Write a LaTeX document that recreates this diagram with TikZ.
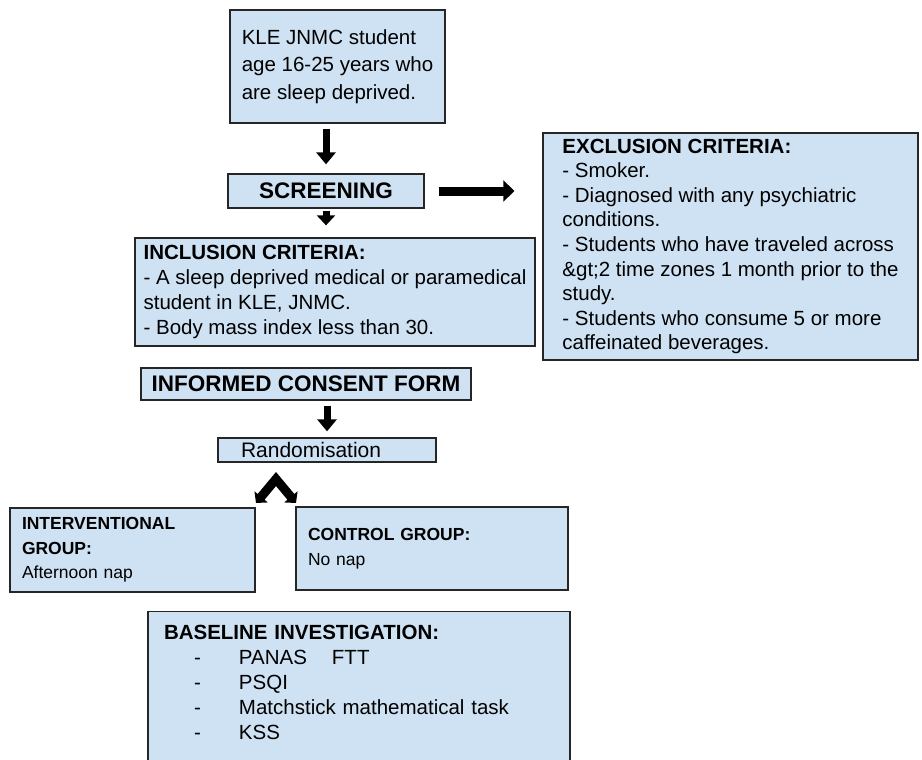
\documentclass[tikz,border=0pt]{standalone}
\usepackage{fontspec}
\setmainfont{Liberation Sans}
\usetikzlibrary{arrows.meta}

\definecolor{boxfill}{HTML}{CFE2F3}
\definecolor{boxline}{HTML}{262626}

\begin{document}
\begin{tikzpicture}[x=1pt, y=-1pt,
  box/.style={draw=boxline, fill=boxfill, line width=1.3pt, align=left, inner sep=0pt},
  fat/.style={line width=7pt, -{Triangle[width=19pt,length=12pt]}}]
\useasboundingbox (0,0) rectangle (922,760);
\fill[white] (0,0) rectangle (922,760);
\clip (0,0) rectangle (922,760);

\node[box, minimum width=215pt, minimum height=113pt, font=\fontsize{20.5}{27.5}\selectfont] (entry) at (337.5,66.5)
{KLE JNMC student\\age 16-25 years who\\are sleep deprived.};

\node[box, minimum width=196pt, minimum height=34pt, font=\fontsize{22.5}{26}\selectfont\bfseries] (screening) at (326,191)
{SCREENING};

\node[box, minimum width=375pt, minimum height=227pt, font=\fontsize{20.5}{24.6}\selectfont] (exclusion) at (730.5,246.5)
{\textbf{EXCLUSION CRITERIA:}\\- Smoker.\\- Diagnosed with any psychiatric\\conditions.\\- Students who have traveled across\\\&gt;2 time zones 1 month prior to the\\study.\\- Students who consume 5 or more\\caffeinated beverages.};

\node[box, minimum width=400pt, minimum height=108pt, font=\fontsize{20.5}{25}\selectfont] (inclusion) at (335,292)
{\textbf{INCLUSION CRITERIA:}\\- A sleep deprived medical or paramedical\\student in KLE, JNMC.\\- Body mass index less than 30.};

\node[box, minimum width=330pt, minimum height=32pt, font=\fontsize{22.5}{26}\selectfont\bfseries] (consent) at (306,384)
{INFORMED CONSENT FORM};

\node[box, minimum width=218pt, minimum height=24pt, inner xsep=23pt, text width=172pt, font=\fontsize{21}{24}\selectfont] (randomise) at (327,450)
{Randomisation};

\node[box, minimum width=245pt, minimum height=84pt, inner xsep=12pt, text width=221pt, font=\fontsize{17.5}{24.5}\selectfont] (intervention) at (132.5,550)
{\textbf{INTERVENTIONAL}\\\textbf{GROUP:}\\Afternoon nap};

\node[box, minimum width=272pt, minimum height=83pt, inner xsep=12pt, text width=248pt, font=\fontsize{17.5}{24.5}\selectfont] (control) at (432,548.5)
{\textbf{CONTROL GROUP:}\\No nap};

\node[box, anchor=north, inner xsep=16pt, inner ysep=14pt, text width=390pt, font=\fontsize{20.5}{25}\selectfont] (baseline) at (359,611)
{\textbf{BASELINE INVESTIGATION:}\\
\hspace*{30pt}\makebox[45pt][l]{-}PANAS\hspace{25pt}FTT\\
\hspace*{30pt}\makebox[45pt][l]{-}PSQI\\
\hspace*{30pt}\makebox[45pt][l]{-}Matchstick mathematical task\\
\hspace*{30pt}\makebox[45pt][l]{-}KSS\rule[-40pt]{0pt}{0pt}};

\coordinate (split) at (276,479);
\coordinate (toIntervention) at (256,503);
\coordinate (toControl) at (296,503);

\draw[fat, shorten <=5pt, shorten >=9pt] (entry.south -| screening.north) -- (screening.north);
\draw[fat, -{Triangle[width=18pt,length=10pt]}, shorten <=2pt, shorten >=12pt] (screening.south) -- (screening.south |- inclusion.north);
\draw[line width=9pt, -{Triangle[width=21pt,length=11pt]}, shorten <=14pt, shorten >=28pt] (screening.east) -- (screening.east -| exclusion.west);
\draw[fat, shorten <=5pt, shorten >=6pt] (consent.south -| randomise.north) -- (randomise.north);
\draw[line width=9pt, line join=miter, {Triangle[width=17pt,length=8pt]}-{Triangle[width=17pt,length=8pt]}] (toIntervention) -- (split) -- (toControl);
\end{tikzpicture}
\end{document}
